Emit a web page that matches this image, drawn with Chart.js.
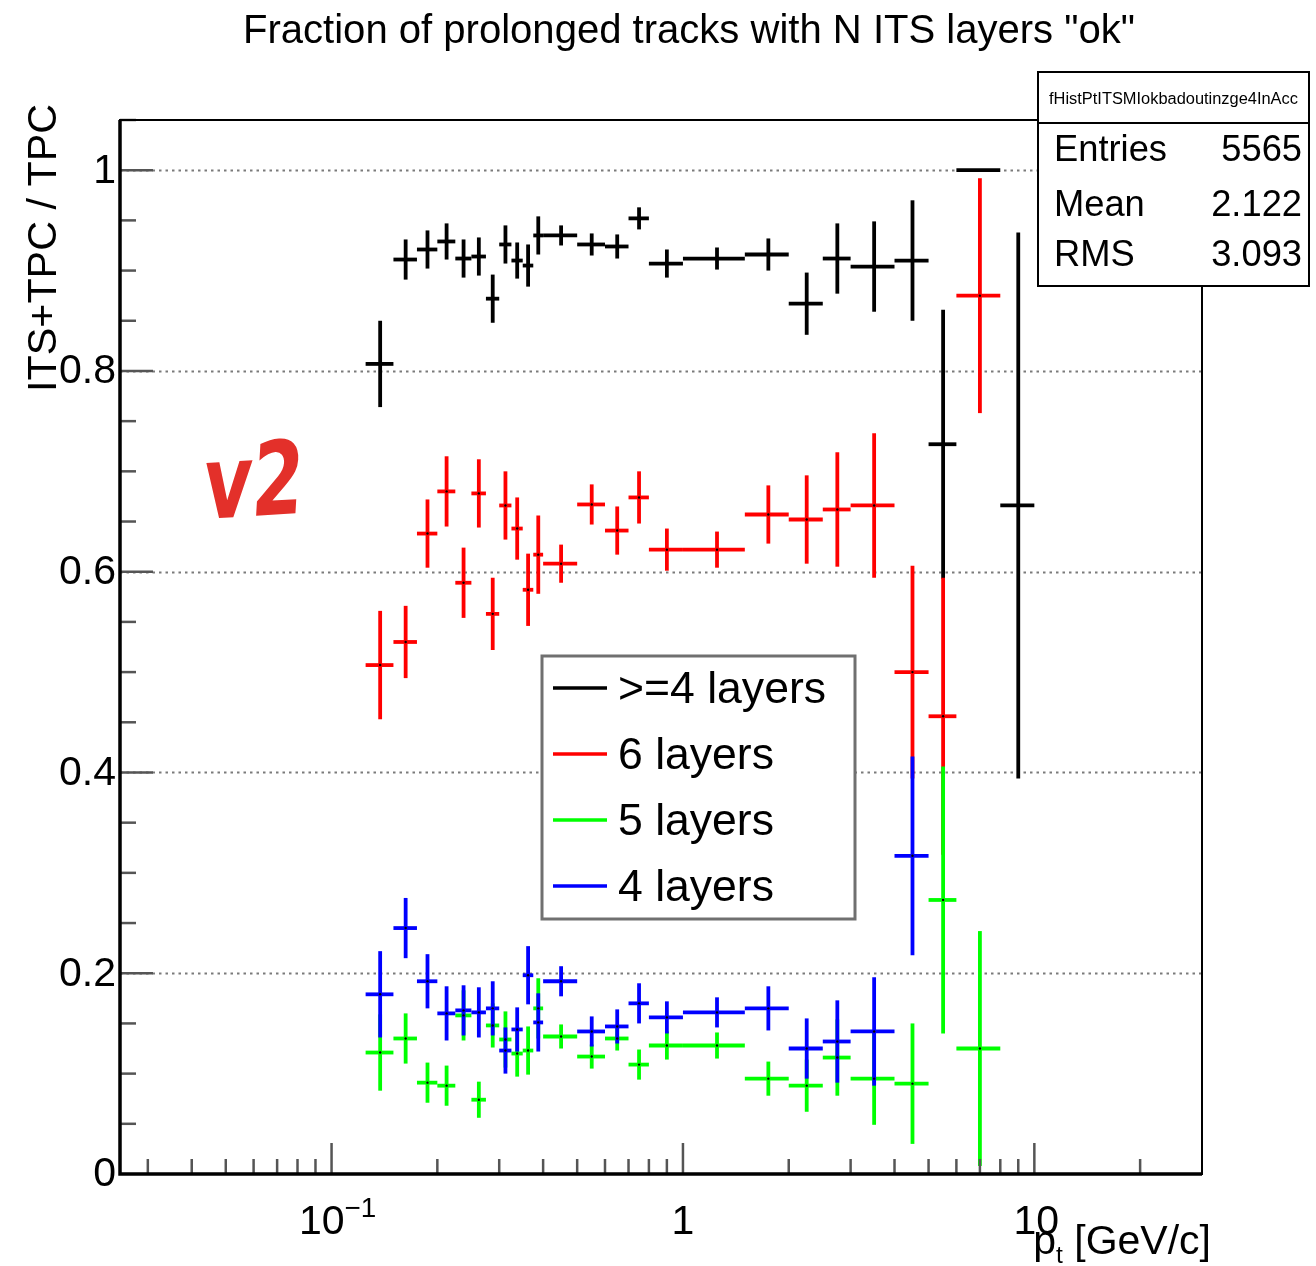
<!DOCTYPE html>
<html><head><meta charset="utf-8">
<script src="https://cdn.jsdelivr.net/npm/chart.js@4.4.1/dist/chart.umd.min.js"></script>
<style>html,body{margin:0;padding:0;background:#fff;overflow:hidden}#wrap{width:1316px;height:1266px;position:relative}canvas{display:block}</style>
</head><body><div id="wrap"><canvas id="c" width="1316" height="1266"></canvas></div>
<script>
// ---- data ----
const binLow  = [0.125,0.15,0.175,0.2,0.225,0.25,0.275,0.3,0.325,0.35,0.375,0.4,0.5,0.6,0.7,0.8,1.0,1.5,2.0,2.5,3.0,4.0,5.0,6.0,8.0];
const binHigh = [0.15,0.175,0.2,0.225,0.25,0.275,0.3,0.325,0.35,0.375,0.4,0.5,0.6,0.7,0.8,1.0,1.5,2.0,2.5,3.0,4.0,5.0,6.0,8.0,10.0];
const binCenter = [0.1375,0.1625,0.1875,0.2125,0.2375,0.2625,0.2875,0.3125,0.3375,0.3625,0.3875,0.45,0.55,0.65,0.75,0.9,1.25,1.75,2.25,2.75,3.5,4.5,5.5,7.0,9.0];

const ge4Vals = [0.807,0.911,0.921,0.929,0.912,0.914,0.872,0.926,0.910,0.905,0.935,0.935,0.926,0.924,0.952,0.907,0.912,0.916,0.867,0.912,0.904,0.910,0.727,1.0,0.666];
const ge4Errs = [0.043,0.020,0.019,0.018,0.019,0.019,0.024,0.019,0.018,0.021,0.019,0.010,0.011,0.012,0.011,0.014,0.011,0.016,0.031,0.035,0.045,0.060,0.134,0.0,0.272];

const l6Vals = [0.507,0.530,0.638,0.680,0.589,0.678,0.558,0.666,0.643,0.582,0.617,0.608,0.667,0.641,0.674,0.622,0.622,0.657,0.652,0.662,0.666,0.500,0.456,0.875,null];
const l6Errs = [0.054,0.036,0.034,0.035,0.035,0.034,0.036,0.034,0.031,0.036,0.039,0.019,0.020,0.024,0.026,0.021,0.018,0.029,0.044,0.057,0.072,0.106,0.138,0.117,null];

const l5Vals = [0.121,0.135,0.091,0.088,0.158,0.074,0.148,0.134,0.120,0.123,0.165,0.137,0.117,0.135,0.109,0.128,0.128,0.095,0.088,0.116,0.095,0.090,0.273,0.125,null];
const l5Errs = [0.038,0.025,0.020,0.020,0.025,0.018,0.022,0.028,0.023,0.024,0.030,0.012,0.012,0.012,0.015,0.014,0.013,0.017,0.026,0.038,0.046,0.060,0.133,0.117,null];

const l4Vals = [0.179,0.245,0.192,0.160,0.163,0.161,0.165,0.123,0.144,0.198,0.151,0.192,0.142,0.147,0.170,0.156,0.161,0.165,0.125,0.132,0.142,0.317,null,null,null];
const l4Errs = [0.043,0.030,0.027,0.027,0.025,0.025,0.027,0.023,0.022,0.029,0.029,0.015,0.015,0.017,0.020,0.016,0.015,0.022,0.030,0.041,0.054,0.099,null,null,null];

const seriesNames = [">=4 layers","6 layers","5 layers","4 layers"];
const seriesColors = ["#000000","#ff0000","#00ff00","#0000ff"];
const seriesVals = [ge4Vals,l6Vals,l5Vals,l4Vals];
const seriesErrs = [ge4Errs,l6Errs,l5Errs,l4Errs];

const yMajorTicks = [0,0.2,0.4,0.6,0.8,1];
const yTickLabels = ["0","0.2","0.4","0.6","0.8","1"];
const yMinorStep = 0.05;
const xMajorTicks = [0.1,1,10];
const xMinorTicks = [0.03,0.04,0.05,0.06,0.07,0.08,0.09,0.2,0.3,0.4,0.5,0.6,0.7,0.8,0.9,2,3,4,5,6,7,8,9,20];

const titleText = 'Fraction of prolonged tracks with N ITS layers "ok"';
const yTitle = "ITS+TPC / TPC";
const statsName = "fHistPtITSMIokbadoutinzge4InAcc";
const statsRows = [["Entries","5565"],["Mean","2.122"],["RMS","3.093"]];

// ---- helpers ----
const FAM = '"Liberation Sans", Arial, Helvetica, sans-serif';
function font(s, w){ return (w?w+' ':'') + s.toFixed(2) + 'px ' + FAM; }
function fitSize(ctx, text, width, w){ ctx.font = font(100, w); return 100*width/ctx.measureText(text).width; }

const rootPlugin = {
  id: 'rootStyle',
  beforeDatasetsDraw(chart){
    const ctx = chart.ctx, xs = chart.scales.x, ys = chart.scales.y, a = chart.chartArea;
    ctx.save();
    // dotted grid
    ctx.strokeStyle = '#7a7a7a'; ctx.lineWidth = 2; ctx.setLineDash([2.5,4]);
    yMajorTicks.forEach(v => { if (v === 0) return; const py = Math.round(ys.getPixelForValue(v)) + 0.5;
      ctx.beginPath(); ctx.moveTo(a.left, py); ctx.lineTo(a.right, py); ctx.stroke(); });
    ctx.setLineDash([]);
    // error bars (crosses)
    ctx.beginPath(); ctx.rect(a.left, a.top, a.right - a.left, a.bottom - a.top); ctx.clip();
    ctx.lineWidth = 3.8; ctx.lineCap = 'butt';
    seriesVals.forEach((vals, s) => {
      const errs = seriesErrs[s];
      ctx.strokeStyle = seriesColors[s];
      vals.forEach((v, i) => {
        if (v === null) return;
        const px = xs.getPixelForValue(binCenter[i]);
        const pl = xs.getPixelForValue(binLow[i]), ph = xs.getPixelForValue(binHigh[i]);
        const py = ys.getPixelForValue(v);
        const e = errs[i];
        ctx.beginPath(); ctx.moveTo(pl, py); ctx.lineTo(ph, py); ctx.stroke();
        if (e > 0) {
          ctx.beginPath(); ctx.moveTo(px, ys.getPixelForValue(v + e)); ctx.lineTo(px, ys.getPixelForValue(Math.max(0, v - e))); ctx.stroke();
        }
      });
    });
    ctx.restore();
  },
  afterDatasetsDraw(chart){
    const ctx = chart.ctx, xs = chart.scales.x, ys = chart.scales.y, a = chart.chartArea;
    ctx.save();
    // ticks
    ctx.strokeStyle = '#555'; ctx.lineWidth = 2.5;
    for (let k = 1; k * yMinorStep <= 1.05 + 1e-9; k++) {
      const v = k * yMinorStep; const major = Math.abs(v*5 - Math.round(v*5)) < 1e-6;
      const py = ys.getPixelForValue(v);
      ctx.beginPath(); ctx.moveTo(a.left, py); ctx.lineTo(a.left + (major ? 33 : 16), py); ctx.stroke();
    }
    xMajorTicks.forEach(v => { const px = xs.getPixelForValue(v);
      ctx.beginPath(); ctx.moveTo(px, a.bottom); ctx.lineTo(px, a.bottom - 31); ctx.stroke(); });
    xMinorTicks.forEach(v => { const px = xs.getPixelForValue(v);
      ctx.beginPath(); ctx.moveTo(px, a.bottom); ctx.lineTo(px, a.bottom - 15); ctx.stroke(); });
    // frame
    ctx.strokeStyle = '#000';
    ctx.lineWidth = 2; ctx.strokeRect(a.left, a.top, a.right - a.left, a.bottom - a.top);
    ctx.lineWidth = 3.5;
    ctx.beginPath(); ctx.moveTo(a.left, a.top); ctx.lineTo(a.left, a.bottom); ctx.lineTo(a.right, a.bottom); ctx.stroke();

    ctx.fillStyle = '#000';
    // y tick labels
    const tickSize = fitSize(ctx, "0.8", 57);
    ctx.font = font(tickSize); ctx.textAlign = 'right'; ctx.textBaseline = 'middle';
    yMajorTicks.forEach((v, i) => ctx.fillText(yTickLabels[i], a.left - 4, ys.getPixelForValue(v) + 1));
    // x tick labels
    ctx.textBaseline = 'alphabetic';
    const xlY = a.bottom + 60;
    {
      const p = xs.getPixelForValue(0.1);
      ctx.font = font(tickSize); ctx.textAlign = 'right'; ctx.fillText("10", p + 13, xlY);
      ctx.font = font(tickSize * 0.68); ctx.textAlign = 'left'; ctx.fillText("\u22121", p + 13, xlY - 17);
      const p1 = xs.getPixelForValue(1);
      ctx.font = font(tickSize); ctx.textAlign = 'center'; ctx.fillText("1", p1, xlY);
      const p10 = xs.getPixelForValue(10);
      ctx.fillText("10", p10 + 2, xlY);
    }
    // x title: p_t [GeV/c]
    {
      ctx.font = font(tickSize); ctx.textAlign = 'right';
      const right = 1211, base = 1254;
      const s2 = " [GeV/c]";
      ctx.fillText(s2, right, base);
      const w2 = ctx.measureText(s2).width;
      ctx.font = font(tickSize * 0.6); const wt = ctx.measureText("t").width;
      ctx.fillText("t", right - w2, base + 9);
      ctx.font = font(tickSize); ctx.fillText("p", right - w2 - wt, base);
    }
    // y title
    {
      const s = fitSize(ctx, yTitle, 288);
      ctx.save(); ctx.translate(45, 104); ctx.rotate(-Math.PI/2);
      ctx.font = font(s); ctx.textAlign = 'right'; ctx.textBaseline = 'middle';
      ctx.fillText(yTitle, 0, 0); ctx.restore();
    }
    // title
    {
      const s = fitSize(ctx, titleText, 892);
      ctx.font = font(s); ctx.textAlign = 'center'; ctx.textBaseline = 'alphabetic';
      ctx.fillText(titleText, 689, 43);
    }
    // legend
    {
      const L = 542, T = 656, R = 855, B = 919;
      ctx.fillStyle = '#fff'; ctx.fillRect(L, T, R - L, B - T);
      ctx.strokeStyle = '#707070'; ctx.lineWidth = 3; ctx.strokeRect(L, T, R - L, B - T);
      const s = fitSize(ctx, seriesNames[0], 208);
      const rows = [688, 754, 820, 886];
      seriesNames.forEach((n, i) => {
        ctx.strokeStyle = seriesColors[i]; ctx.lineWidth = 3.5;
        ctx.beginPath(); ctx.moveTo(553, rows[i]); ctx.lineTo(607, rows[i]); ctx.stroke();
        ctx.fillStyle = '#000'; ctx.font = font(s); ctx.textAlign = 'left'; ctx.textBaseline = 'alphabetic';
        ctx.fillText(n, 618, rows[i] + 15);
      });
    }
    // stats box
    {
      const L = 1038, T = 72, R = 1309, B = 286;
      ctx.fillStyle = '#fff'; ctx.fillRect(L, T, R - L, B - T);
      ctx.strokeStyle = '#000'; ctx.lineWidth = 2; ctx.strokeRect(L, T, R - L, B - T);
      ctx.beginPath(); ctx.moveTo(L, 123); ctx.lineTo(R, 123); ctx.stroke();
      ctx.fillStyle = '#000';
      const hs = fitSize(ctx, statsName, 249);
      ctx.font = font(hs); ctx.textAlign = 'center'; ctx.textBaseline = 'middle';
      ctx.fillText(statsName, (L + R) / 2, 99);
      const s = fitSize(ctx, "Entries", 113);
      ctx.font = font(s);
      const ry = [151, 206, 256];
      statsRows.forEach((r, i) => {
        ctx.textAlign = 'left'; ctx.fillText(r[0], 1054, ry[i]);
        ctx.textAlign = 'right'; ctx.fillText(r[1], 1302, ry[i]);
      });
    }
    // v2 annotation (hand-drawn style label)
    {
      const fam = '"DejaVu Sans", sans-serif';
      ctx.font = 'bold 100px ' + fam;
      const w = ctx.measureText("v2").width; const s = 100 * 100 / w;
      ctx.font = 'bold ' + s.toFixed(1) + 'px ' + fam;
      ctx.fillStyle = '#e3302a'; ctx.textAlign = 'left'; ctx.textBaseline = 'alphabetic';
      ctx.save(); ctx.translate(202, 519); ctx.transform(1, -0.06, -0.08, 1.38, 0, 0);
      ctx.fillText("v2", 0, 0); ctx.restore();
    }
    ctx.restore();
  }
};

const datasets = seriesVals.map((vals, s) => ({
  label: seriesNames[s],
  data: vals.map((v, i) => v === null ? null : { x: binCenter[i], y: v }).filter(p => p !== null),
  showLine: false,
  pointRadius: 1.2,
  pointBackgroundColor: '#000',
  pointBorderWidth: 0,
  borderColor: seriesColors[s]
}));

new Chart(document.getElementById('c'), {
  type: 'scatter',
  data: { datasets },
  options: {
    responsive: false, animation: false, devicePixelRatio: 1,
    layout: { padding: { left: 120, top: 120, right: 114, bottom: 92 } },
    plugins: { legend: { display: false }, tooltip: { enabled: false }, title: { display: false } },
    scales: {
      x: { type: 'logarithmic', min: 0.025, max: 30, display: false },
      y: { type: 'linear', min: 0, max: 1.05, display: false }
    }
  },
  plugins: [rootPlugin]
});
</script>
</body></html>
